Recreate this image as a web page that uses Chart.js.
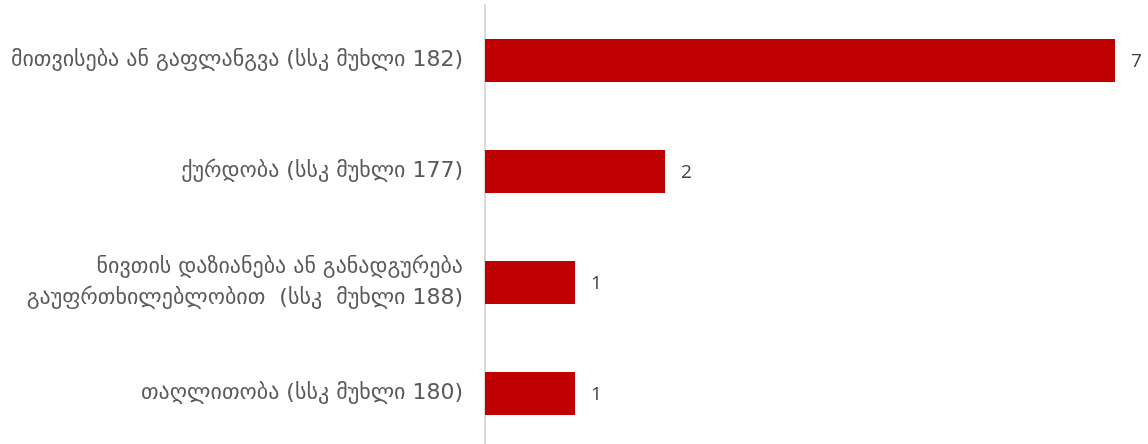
<!DOCTYPE html>
<html>
<head>
<meta charset="utf-8">
<script src="https://cdn.jsdelivr.net/npm/chart.js@4/dist/chart.umd.min.js"></script>
<style>
  html, body { margin: 0; padding: 0; background: #fff; overflow: hidden; }
  #wrap { position: relative; width: 1148px; height: 449px; }
</style>
</head>
<body>
<div id="wrap"><canvas id="chart"></canvas></div>
<script>
// categories (top to bottom) and counts
var categories = [
    'მითვისება ან გაფლანგვა (სსკ მუხლი 182)',
    'ქურდობა (სსკ მუხლი 177)',
    ['ნივთის დაზიანება ან განადგურება', 'გაუფრთხილებლობით  (სსკ  მუხლი 188)'],
    'თაღლითობა (სსკ მუხლი 180)'
];
var counts = [7, 2, 1, 1];
var axisMax = 7;

// writes the value to the right of each bar
var valueLabels = {
    id: 'valueLabels',
    afterDatasetsDraw: function(chart){
        var ctx = chart.ctx;
        var meta = chart.getDatasetMeta(0);
        ctx.save();
        ctx.font = '19px "Open Sans", sans-serif';
        ctx.fillStyle = '#404040';
        ctx.textAlign = 'left';
        ctx.textBaseline = 'middle';
        meta.data.forEach(function(bar, i){
            ctx.fillText(String(counts[i]), bar.x + 16, bar.y + 1);
        });
        ctx.restore();
    }
};

var ctx = document.getElementById('chart').getContext('2d');
var chart = new Chart(ctx, {
    type: 'bar',
    data: {
        labels: categories,
        datasets: [{
            data: counts,
            backgroundColor: '#C00000',
            borderWidth: 0,
            barPercentage: 0.387,
            categoryPercentage: 1
        }]
    },
    options: {
        indexAxis: 'y',
        responsive: true,
        maintainAspectRatio: false,
        animation: false,
        layout: { padding: { top: 5, right: 33, left: 0, bottom: 0 } },
        scales: {
            x: {
                display: false,
                min: 0,
                max: axisMax
            },
            y: {
                grid: { display: false, drawTicks: false },
                border: { display: true, color: '#d9d9d9', width: 2 },
                ticks: {
                    color: '#595959',
                    font: { family: 'DejaVu Sans', size: 22, lineHeight: 1.4 },
                    padding: 22
                },
                afterFit: function(scale){
                    scale.width = 485;
                    scale.paddingTop = 0;
                    scale.paddingBottom = 0;
                }
            }
        },
        plugins: {
            legend: { display: false },
            tooltip: { enabled: false }
        }
    },
    plugins: [valueLabels]
});
</script>
</body>
</html>
